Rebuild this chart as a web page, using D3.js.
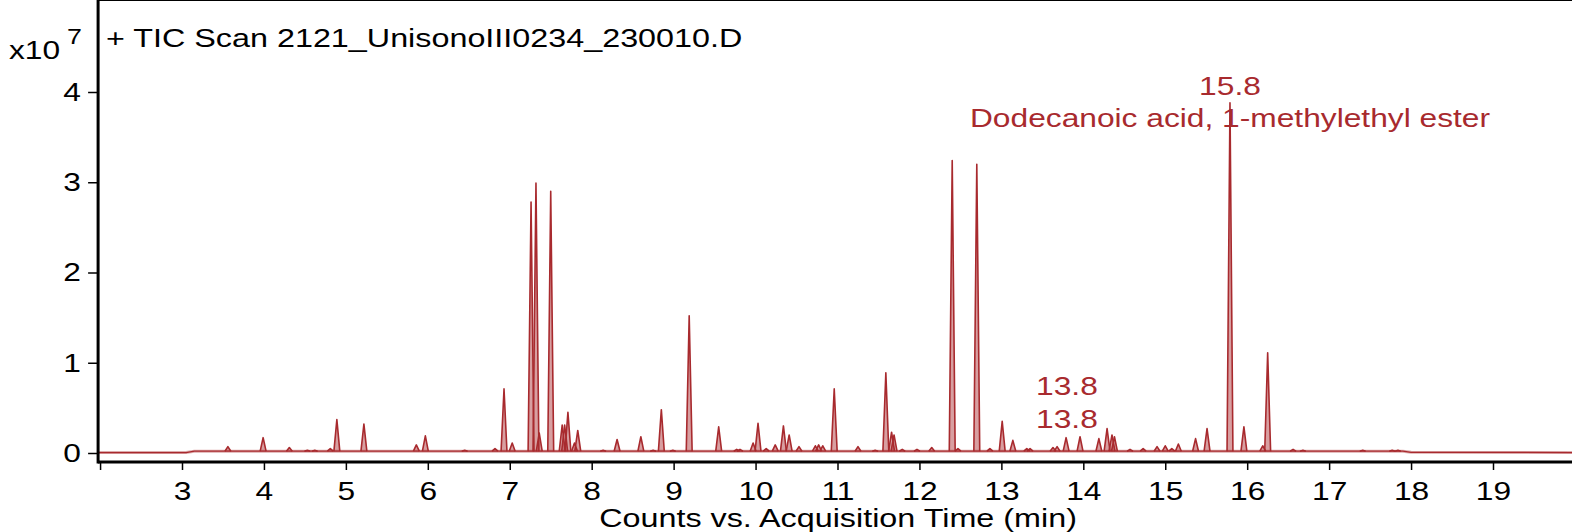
<html>
<head>
	<script src="https://d3js.org/d3.v7.min.js"></script>
	<style>
		body { margin: 0; background: #fff; }
		text { font-family: "Liberation Sans", Arial, sans-serif; }
	</style>
</head>
<body>
	<svg></svg>
</body>
<script type="text/javascript">
	// retention time (min) and counts (x10^7)
	var peakTime = [3.56, 3.99, 4.31, 4.53, 4.62, 4.81, 4.89, 5.22, 5.86, 5.97, 6.45, 6.82, 6.93, 7.03,
		7.26, 7.32, 7.36, 7.50, 7.64, 7.67, 7.71, 7.79, 7.83, 8.14, 8.31, 8.60, 8.75, 8.85, 8.99, 9.19,
		9.55, 9.77, 9.81, 9.97, 10.03, 10.13, 10.24, 10.34, 10.41, 10.53, 10.73, 10.77, 10.82, 10.96,
		11.25, 11.46, 11.59, 11.66, 11.69, 11.79, 11.97, 12.15, 12.40, 12.47, 12.70, 12.86, 13.01, 13.14,
		13.31, 13.35, 13.63, 13.68, 13.79, 13.96, 14.19, 14.29, 14.35, 14.38, 14.57, 14.73, 14.90, 15.00,
		15.08, 15.16, 15.37, 15.51, 15.79, 15.96, 16.19, 16.25, 16.56, 16.68, 17.41, 17.77, 17.84];
	var peakCounts = [0.07, 0.17, 0.06, 0.03, 0.03, 0.05, 0.37, 0.32, 0.09, 0.19, 0.03, 0.05, 0.71, 0.11,
		2.78, 2.99, 0.22, 2.90, 0.31, 0.31, 0.45, 0.11, 0.25, 0.03, 0.15, 0.18, 0.03, 0.48, 0.03, 1.52,
		0.29, 0.04, 0.04, 0.11, 0.33, 0.05, 0.09, 0.30, 0.20, 0.07, 0.08, 0.09, 0.08, 0.71,
		0.07, 0.03, 0.89, 0.23, 0.20, 0.04, 0.04, 0.06, 3.24, 0.05, 3.20, 0.05, 0.35, 0.14,
		0.05, 0.05, 0.06, 0.07, 0.17, 0.18, 0.16, 0.27, 0.20, 0.18, 0.04, 0.05, 0.07, 0.08,
		0.05, 0.10, 0.16, 0.27, 3.88, 0.29, 0.08, 1.11, 0.04, 0.03, 0.03, 0.03, 0.03];
	var peakHalfWidth = 0.036;

	// baseline of the trace
	var baseTime = [1.976, 3.05, 3.15, 17.9, 18.0, 19.97];
	var baseCounts = [0.005, 0.005, 0.02, 0.02, 0.008, 0.005];

	var xTicks = [2, 3, 4, 5, 6, 7, 8, 9, 10, 11, 12, 13, 14, 15, 16, 17, 18, 19];
	var xTickLabels = ["", "3", "4", "5", "6", "7", "8", "9", "10", "11", "12", "13", "14", "15", "16", "17", "18", "19"];
	var yTicks = [0, 1, 2, 3, 4];
	var yTickLabels = ["0", "1", "2", "3", "4"];

	var annoTime = [15.79, 15.79, 13.80, 13.80];
	var annoText = ["15.8", "Dodecanoic acid, 1-methylethyl ester", "13.8", "13.8"];

	var width = 1572, height = 532;
	var red = "#a82a2e";
	var stretch = 1.22;

	var x = d3.scaleLinear().domain([3, 19]).range([182, 1493]);
	var y = d3.scaleLinear().domain([0, 4]).range([453, 92]);
	var left = x(1.976), top = 12, bottom = 462;

	var svg = d3.select("svg").attr("width", width).attr("height", height);

	// frame
	svg.append("line").attr("x1", left).attr("x2", width).attr("y1", top).attr("y2", top)
		.attr("stroke", "#000").attr("stroke-width", 2);

	// trace
	var baseline = baseTime.map(function(t, i){ return [t, baseCounts[i]]; });
	var line = d3.line().x(function(d){ return x(d[0]); }).y(function(d){ return y(d[1]); });
	svg.append("path").attr("d", line(baseline)).attr("fill", "none")
		.attr("stroke", red).attr("stroke-width", 3).attr("stroke-opacity", 0.4);
	svg.append("path").attr("d", line(baseline)).attr("fill", "none")
		.attr("stroke", red).attr("stroke-width", 1.2);

	var peaks = peakTime.map(function(t, i){
		return [[t - peakHalfWidth, 0.02], [t, peakCounts[i]], [t + peakHalfWidth, 0.02]];
	});
	svg.selectAll(".peak")
		.data(peaks)
		.enter().append("path")
		.attr("class", "peak")
		.attr("d", function(d){ return line(d); })
		.attr("fill", red).attr("fill-opacity", 0.45)
		.attr("stroke", red).attr("stroke-width", 1.6).attr("stroke-linejoin", "round");

	// axes
	var xAxis = d3.axisBottom(x).tickValues(xTicks).tickSize(8).tickPadding(12)
		.tickFormat(function(d, i){ return xTickLabels[i]; });
	var gx = svg.append("g").attr("transform", "translate(0," + bottom + ")").call(xAxis);
	gx.select(".domain").remove();
	gx.selectAll(".tick line").attr("stroke-width", 1.5);
	gx.selectAll(".tick text").attr("font-size", 26).attr("font-family", "Liberation Sans, Arial")
		.attr("fill", "#000").attr("transform", "scale(" + stretch + ",1)");

	var yAxis = d3.axisLeft(y).tickValues(yTicks).tickSize(10).tickPadding(4)
		.tickFormat(function(d, i){ return yTickLabels[i]; });
	var gy = svg.append("g").attr("transform", "translate(" + left + ",0)").call(yAxis);
	gy.select(".domain").remove();
	gy.selectAll(".tick line").attr("stroke-width", 1.5);
	gy.selectAll(".tick text").attr("font-size", 26).attr("font-family", "Liberation Sans, Arial")
		.attr("fill", "#000").attr("transform", "scale(" + stretch + ",1)");

	svg.append("line").attr("x1", left).attr("x2", left).attr("y1", top - 1).attr("y2", bottom + 1.5)
		.attr("stroke", "#000").attr("stroke-width", 3);
	svg.append("line").attr("x1", left).attr("x2", width).attr("y1", bottom).attr("y2", bottom)
		.attr("stroke", "#000").attr("stroke-width", 3);

	function label(txt, px, py, size, anchor, color){
		return svg.append("text")
			.attr("transform", "translate(" + px + "," + py + ") scale(" + stretch + ",1)")
			.attr("text-anchor", anchor).attr("font-size", size).attr("fill", color)
			.text(txt);
	}

	label("+ TIC Scan 2121_UnisonoIII0234_230010.D", 106, 47, 26.5, "start", "#000");
	label("x10", 9, 59, 26, "start", "#000");
	label("7", 67, 44, 22, "start", "#000");
	label("Counts vs. Acquisition Time (min)", (x(2) + width) / 2 + 2, 527, 26.5, "middle", "#000");

	// peak annotations
	var annoDy = [-8, 24, -43, -10];
	var annoPeak = [3.88, 3.88, 0.17, 0.17];
	annoText.forEach(function(t, i){
		label(t, x(annoTime[i]), y(annoPeak[i]) + annoDy[i], 26, "middle", red);
	});
</script>
</html>
